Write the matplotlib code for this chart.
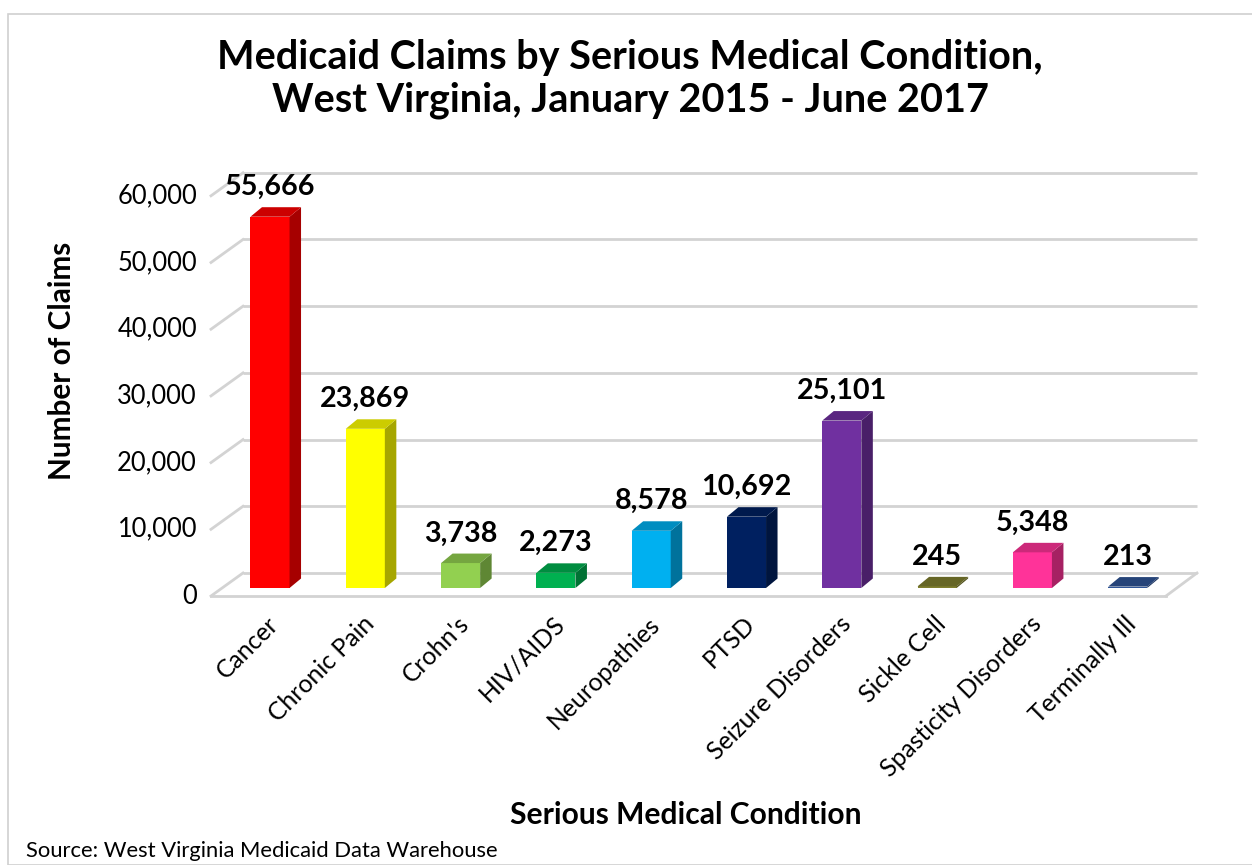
import matplotlib
matplotlib.use('Agg')
import matplotlib.pyplot as plt
from matplotlib.patches import Polygon, Rectangle
from matplotlib.colors import to_rgb

# data
conditions = ['Cancer', 'Chronic Pain', "Crohn's", 'HIV/AIDS', 'Neuropathies', 'PTSD',
              'Seizure Disorders', 'Sickle Cell', 'Spasticity Disorders', 'Terminally Ill']
claims = [55666, 23869, 3738, 2273, 8578, 10692, 25101, 245, 5348, 213]
bar_colors = ['#FF0000', '#FFFF00', '#92D050', '#00B050', '#00B0F0',
              '#002060', '#7030A0', '#7F7F2F', '#FF3399', '#2F5597']
y_ticks = [0, 10000, 20000, 30000, 40000, 50000, 60000]

title = 'Medicaid Claims by Serious Medical Condition,\nWest Virginia, January 2015 - June 2017'
x_label = 'Serious Medical Condition'
y_label = 'Number of Claims'
source = 'Source: West Virginia Medicaid Data Warehouse'

W, H = 1252, 865
FONT = ['Lato', 'DejaVu Sans']

# pixel geometry of the fake 3d box
X0_PX, X_STEP = 270.0, 95.3      # centre of first bar, spacing
Y0_PX, Y_SCALE = 588.0, 66.7 / 10000   # bar base, px per claim


def dx(px):
    return px / X_STEP


def dy(px):
    return px / Y_SCALE


def darker(c, f):
    r, g, b = to_rgb(c)
    return (r * f, g * f, b * f)


def main():
    plt.rcParams['font.family'] = FONT
    fig = plt.figure(figsize=(W / 100, H / 100), dpi=100)
    ax = fig.add_axes([0, 0, 1, 1])
    ax.set_xlim(-X0_PX / X_STEP, (W - X0_PX) / X_STEP)
    ax.set_ylim((Y0_PX - H) / Y_SCALE, Y0_PX / Y_SCALE)
    ax.axis('off')

    # chart border
    fig.patches.append(Rectangle((8 / W, 0), 1.2, 1 - 14 / H, transform=fig.transFigure,
                                 fill=False, edgecolor='#d0d0d0', lw=1.2))

    front_left, back_left = dx(211 - X0_PX), dx(243 - X0_PX)
    front_right, back_right = dx(1166 - X0_PX), dx(1197 - X0_PX)
    off_front, off_back = dy(Y0_PX - 596), dy(Y0_PX - 573)
    grid_c = '#d3d3d3'

    for v in y_ticks:
        ax.plot([back_left, back_right], [v + off_back] * 2, color=grid_c, lw=2, zorder=1,
                solid_capstyle='butt')
        ax.plot([front_left, back_left], [v + off_front, v + off_back], color=grid_c, lw=2, zorder=1)
        ax.text(front_left - dx(14), v + off_front, f'{v:,}', ha='right', va='center',
                fontsize=18.4, color='black')
    # floor
    ax.plot([front_left, front_right], [off_front] * 2, color=grid_c, lw=2, zorder=1)
    ax.plot([front_right, back_right], [off_front, off_back], color=grid_c, lw=2, zorder=1)

    # bars
    bw = 0.41
    ddx, ddy = dx(11.5), dy(9.5)
    for i, (val, col) in enumerate(zip(claims, bar_colors)):
        x0, x1 = i - bw / 2, i + bw / 2
        ax.bar(i, val, width=bw, color=col, zorder=3, linewidth=0)
        side = Polygon([(x1, 0), (x1, val), (x1 + ddx, val + ddy), (x1 + ddx, ddy)],
                       closed=True, facecolor=darker(col, 0.65), edgecolor='none', zorder=3)
        top = Polygon([(x0, val), (x1, val), (x1 + ddx, val + ddy), (x0 + ddx, val + ddy)],
                      closed=True, facecolor=darker(col, 0.8), edgecolor='none', zorder=3)
        ax.add_patch(side)
        ax.add_patch(top)
        ax.text(i, val + ddy + dy(7), f'{val:,}', ha='center', va='bottom',
                fontsize=20.7, fontweight='bold', zorder=4)
        ax.text(i - dx(3), dy(-24), conditions[i], rotation=45, rotation_mode='anchor',
                ha='right', va='top', fontsize=17.8)

    fig.text(630 / W, 1 - 79 / H, title, ha='center', va='center', fontsize=28.5,
             fontweight='bold', linespacing=1.2)
    fig.text(62 / W, 1 - 361 / H, y_label, rotation=90, ha='center', va='center',
             fontsize=21.4, fontweight='bold')
    fig.text(686 / W, 1 - 815 / H, x_label, ha='center', va='center',
             fontsize=21.6, fontweight='bold')
    fig.text(26 / W, 1 - 851 / H, source, ha='left', va='center', fontsize=15.8)

    fig.savefig('out.png', dpi=100)


if __name__ == '__main__':
    main()
